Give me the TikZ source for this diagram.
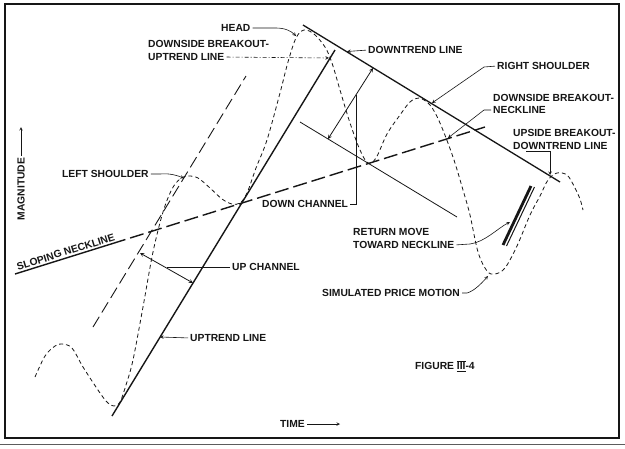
\documentclass[tikz,border=0pt]{standalone}
\usepackage{fontspec}
\setmainfont{Liberation Sans}
\usepackage{xcolor}
\definecolor{plotink}{HTML}{161616}

\begin{document}
\begin{tikzpicture}[x=1pt, y=-1pt, >=stealth,
  every node/.style={font=\bfseries\fontsize{10.3}{12.5}\selectfont, text=plotink, inner sep=0pt},
  lbl/.style={anchor=west},
  trendline/.style={plotink, line width=1.4pt},
  chanline/.style={plotink, line width=0.8pt},
  chandash/.style={plotink, line width=0.9pt, dash pattern=on 12pt off 5pt},
  neckdash/.style={plotink, line width=1.4pt, dash pattern=on 14pt off 5pt},
  pricedash/.style={plotink, line width=0.8pt, dash pattern=on 4pt off 3pt},
  leader/.style={plotink, line width=0.6pt, shorten <=2pt},
  chanarrow/.style={plotink, line width=0.8pt, <->}]

  \useasboundingbox (0,0) rectangle (625,448);
  \fill[white] (0,0) rectangle (625,448);
  \draw[plotink, line width=1.2pt] (5,4) rectangle (619,438);
  \draw[plotink!70, line width=0.8pt] (0,444) -- (625,444);

  \coordinate (up1) at (112,416);
  \coordinate (up2) at (335,50);
  \coordinate (uc1) at (93,327);
  \coordinate (uc2) at (246,76);
  \coordinate (dt1) at (303,25);
  \coordinate (dt2) at (560,182);
  \coordinate (dc1) at (300,122);
  \coordinate (dc2) at (457,217);
  \coordinate (nk1) at (15,274);
  \coordinate (nk0) at (112,243.7);
  \coordinate (nk2) at (485,127);

  \draw[trendline] (up1) -- (up2);
  \draw[chandash] (uc1) -- (uc2);
  \draw[trendline, line width=1.3pt] (dt1) -- (dt2);
  \draw[chanline] (dc1) -- (dc2);
  \draw[plotink, line width=1.4pt] (nk1) -- (nk0);
  \draw[neckdash] (nk0) -- (nk2);

  \draw[pricedash] plot[smooth, tension=0.55] coordinates {
    (35,377) (45,356) (55,346) (62,344) (72,348) (83,367) (100,393) (108,403)
    (114,406) (120,402) (126,385) (133,360) (143,307) (153,252) (163,212)
    (172,189) (180,179) (188,176) (198,178) (210,188) (222,199) (232,204)
    (240,203) (247,193) (256,168) (267,140) (280,93) (288,62) (296,38)
    (304,30) (314,34) (325,47) (332,63) (340,90) (350,123) (360,150)
    (368,163) (376,158) (387,134) (400,115) (410,102) (419,98) (430,105)
    (440,123) (453,157) (463,190) (470,215) (478,252) (487,271) (495,274)
    (505,268) (517,246) (530,215) (540,196) (548,180) (557,173) (567,175)
    (574,186) (580,199) (583,210)};

  \coordinate (rmbar1) at (503,245);
  \coordinate (rmbar2) at (531,186);
  \coordinate (rmbar3) at (506.5,246);
  \coordinate (rmbar4) at (534.5,187);
  \draw[plotink, line width=2.8pt] (rmbar1) -- (rmbar2);
  \draw[plotink, line width=1pt] (rmbar3) -- (rmbar4);

  \coordinate (ucA) at (140,253);
  \coordinate (ucB) at (193,283);
  \coordinate (dcA) at (328,139);
  \coordinate (dcB) at (373,68);
  \draw[chanarrow] (ucA) -- (ucB);
  \draw[chanarrow] (dcA) -- (dcB);

  \node[lbl] (headlbl) at (221,28) {HEAD};
  \node[lbl] (dbuA) at (148,44) {DOWNSIDE BREAKOUT-};
  \node[lbl] (dbuB) at (148,57) {UPTREND LINE};
  \node[lbl] (dtlbl) at (368,50) {DOWNTREND LINE};
  \node[lbl] (rslbl) at (497,66) {RIGHT SHOULDER};
  \node[lbl] (dbnA) at (493,98) {DOWNSIDE BREAKOUT-};
  \node[lbl] (dbnB) at (493,110) {NECKLINE};
  \node[lbl] (ubdA) at (513,133) {UPSIDE BREAKOUT-};
  \node[lbl] (ubdB) at (513,146) {DOWNTREND LINE};
  \node[lbl] (lslbl) at (62,174) {LEFT SHOULDER};
  \node[lbl] (dclbl) at (262,204) {DOWN CHANNEL};
  \node[lbl] (uclbl) at (232,267) {UP CHANNEL};
  \node[lbl] (utlbl) at (190,338) {UPTREND LINE};
  \node[lbl] (rmA) at (353,232) {RETURN MOVE};
  \node[lbl] (rmB) at (353,245) {TOWARD NECKLINE};
  \node[lbl] (spmlbl) at (322,293) {SIMULATED PRICE MOTION};
  \node[lbl] (figlbl) at (415,366) {FIGURE \underline{$\overline{\mbox{III}}$}-4};
  \node[lbl] (timelbl) at (280,424) {TIME};
  \node[rotate=90] (maglbl) at (21,189) {MAGNITUDE};
  \node[anchor=base west, rotate=17.37] (snlbl) at (18,270.5) {SLOPING NECKLINE};

  \coordinate (headpt) at (296,36);
  \coordinate (ubpt) at (329,58);
  \coordinate (dtpt) at (347,51.5);
  \coordinate (rspt) at (432,103);
  \coordinate (dnpt) at (448,138);
  \coordinate (utpt) at (550,175);
  \coordinate (lspt) at (184,178);
  \coordinate (dcmid) at (356,95);
  \coordinate (ucmid) at (167,267);
  \coordinate (utlpt) at (160,337);
  \coordinate (rmpt) at (510,222);
  \coordinate (spmpt) at (488,276);
  \coordinate (timeend) at (340,424);
  \coordinate (magend) at (21,127);

  \draw[leader, ->] (headlbl.east) -- (276,28) .. controls (285,28) and (291,31) .. (headpt);
  \draw[leader, ->, dash pattern=on 4pt off 2pt on 1pt off 2pt] (dbuB.east) -- (ubpt);
  \draw[leader, ->] (dtlbl.west) -- (dtpt);
  \draw[leader, ->] (rslbl.west) -- (484,67) -- (rspt);
  \draw[leader, ->] (dbnB.west) -- (484,110) -- (dnpt);
  \draw[leader, ->] ([xshift=11pt, yshift=-1.5pt]ubdB.south west) -| (utpt);
  \draw[leader, ->] (lslbl.east) -- (160,174) .. controls (171,173) and (178,176) .. (lspt);
  \draw[leader] (dclbl.east) -| (dcmid);
  \draw[leader] (uclbl.west) -- (ucmid);
  \draw[leader, ->] (utlbl.west) -- (utlpt);
  \draw[leader, ->] (rmB.east) -- (470,244) .. controls (485,242) and (498,228) .. (rmpt);
  \draw[leader, ->] (spmlbl.east) -- (467,293) .. controls (474,291) and (481,284) .. (spmpt);
  \draw[leader, ->] (timelbl.east) -- (timeend);
  \draw[leader, ->] (maglbl.east) -- (magend);

\end{tikzpicture}
\end{document}
